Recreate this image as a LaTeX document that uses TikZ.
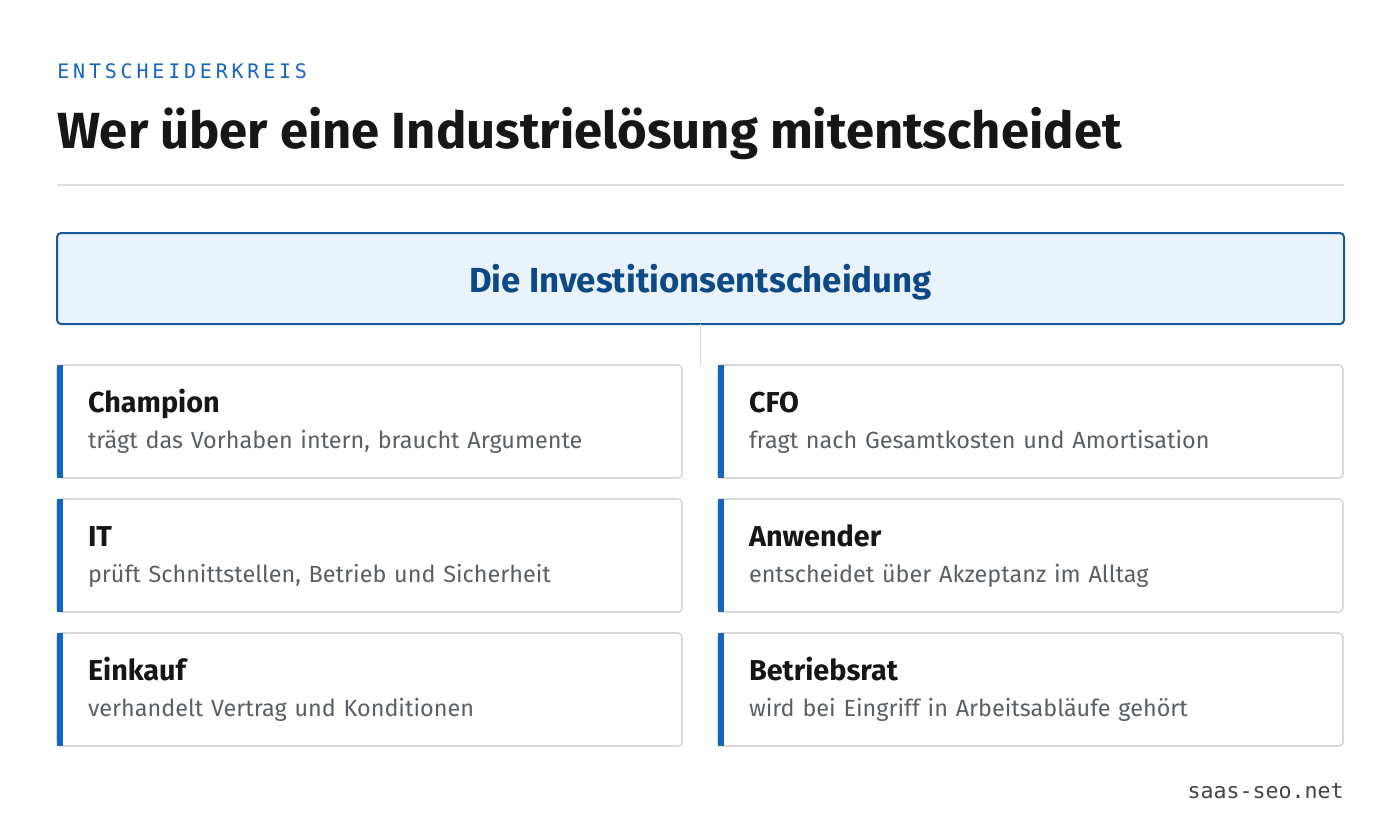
\documentclass[tikz,border=0pt]{standalone}
\usepackage{fontspec}
\setmainfont{Fira Sans}
\setmonofont{DejaVu Sans Mono}
\newfontfamily\kickerfont[LetterSpace=19]{DejaVu Sans Mono}
\usetikzlibrary{positioning}
\definecolor{accent}{HTML}{1565C0}
\definecolor{headblue}{HTML}{0D4A85}
\definecolor{headfill}{HTML}{EAF2FB}
\definecolor{headline}{HTML}{1A5A9A}
\definecolor{ink}{HTML}{161616}
\definecolor{muted}{HTML}{5A5F66}
\definecolor{cardline}{HTML}{D8D8D8}
\definecolor{rulegray}{HTML}{DDDDDD}
\definecolor{footgray}{HTML}{444444}
\tikzset{
    %Define style for the decision box
    headbox/.style={
    rectangle,
    rounded corners=2pt,
    draw=headline, line width=1pt,
    fill=headfill,
    minimum width=643.5pt,
    minimum height=45.5pt,
    outer sep=0pt,
    text height=17.5pt,
    text depth=4pt,
    font=\fontsize{17.4}{20}\selectfont\bfseries,
    text=headblue
   },
    %Define style for the role cards
    role/.style={
    rectangle,
    rounded corners=2pt,
    draw=cardline, line width=0.8pt,
    fill=white,
    minimum width=312.5pt,
    minimum height=56.5pt,
    inner xsep=15.5pt,
    outer sep=0pt,
    text width=281.5pt,
    align=left,
    font=\fontsize{11.7}{18}\selectfont,
    text=muted
   },
    % Define connector style
    link/.style={
           draw=cardline,
           line width=0.7pt}
}
\newcommand{\roletext}[2]{\rule{0pt}{12pt}{\fontsize{14.4}{18}\selectfont\bfseries\color{ink}#1}\\#2\rule[-3.5pt]{0pt}{3.5pt}}

\begin{document}
\begin{tikzpicture}[x=0.5pt,y=-0.5pt,node distance=10.5pt and 18pt]
		\useasboundingbox[fill=white] (0,0) rectangle (1400,826);
		\node[anchor=base west,text=accent,font=\kickerfont\fontsize{10}{12}\selectfont,inner sep=0pt](kicker) at (57,78){ENTSCHEIDERKREIS};
		\node[anchor=base west,text=ink,font=\fontsize{25.4}{30}\selectfont\bfseries,inner sep=0pt](title) at (57,148){Wer über eine Industrielösung mitentscheidet};
		\draw[rulegray,line width=1pt] (57,185) -- (1344,185);
		\node[headbox](decision) at (700.5,278.5){Die Investitionsentscheidung};
		\node[role,anchor=north west](champ) at (57,365){\roletext{Champion}{trägt das Vorhaben intern, braucht Argumente}};
		\node[role,right=of champ](cfo){\roletext{CFO}{fragt nach Gesamtkosten und Amortisation}};
		\node[role,below=of champ](it){\roletext{IT}{prüft Schnittstellen, Betrieb und Sicherheit}};
		\node[role,below=of cfo](user){\roletext{Anwender}{entscheidet über Akzeptanz im Alltag}};
		\node[role,below=of it](buy){\roletext{Einkauf}{verhandelt Vertrag und Konditionen}};
		\node[role,below=of user](council){\roletext{Betriebsrat}{wird bei Eingriff in Arbeitsabläufe gehört}};
		\foreach \n in {champ,cfo,it,user,buy,council}
		    \fill[accent] (\n.north west) rectangle ([xshift=3pt]\n.south west);
		\coordinate (split) at (decision.south |- champ.north);
		\path[link] (decision.south) -- (split);
		\node[anchor=base east,text=footgray,font=\ttfamily\fontsize{10.8}{13}\selectfont,inner sep=0pt](site) at (1344,798){saas-seo.net};
\end{tikzpicture}
\end{document}
